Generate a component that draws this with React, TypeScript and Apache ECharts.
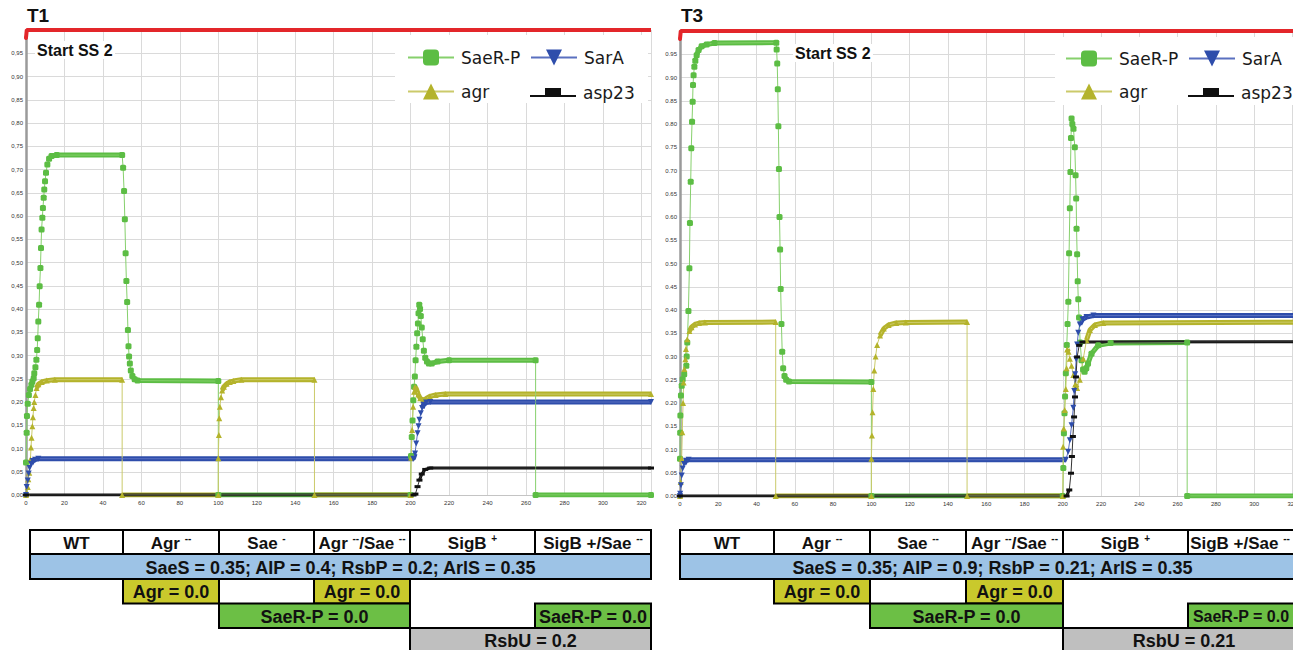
import React, { useEffect, useRef } from "react";
import * as echarts from "echarts";

type Pt = [number, number];

// ---------------- data ----------------
const X_MAX = 325;
const X_STEP = 20;
const Y_STEP = 0.05;
const startLabel = "Start SS 2";
const legendNames = ["SaeR-P", "SarA", "agr", "asp23"];

// T1 panel
const t1SaeRP: Pt[] = [
  [0, 0.07], [0.35, 0.134], [0.5, 0.17], [0.9, 0.196], [1.5, 0.215], [2.1, 0.228], [2.8, 0.237], [3.3, 0.244],
  [4.0, 0.251], [4.3, 0.262], [4.9, 0.275], [5.4, 0.291], [5.8, 0.312], [6.1, 0.337], [6.4, 0.373], [6.8, 0.409],
  [7.1, 0.449], [7.5, 0.488], [7.8, 0.531], [8.1, 0.571], [8.5, 0.596], [8.8, 0.617], [9.2, 0.639], [9.5, 0.657],
  [9.9, 0.675], [10.4, 0.693], [11.1, 0.711], [12.0, 0.723], [13.3, 0.729], [16, 0.731], [50, 0.731],
  [50.5, 0.704], [51, 0.654], [51.4, 0.593], [51.8, 0.52], [52.2, 0.46], [52.6, 0.415], [53, 0.355], [53.3, 0.32],
  [53.6, 0.298], [54, 0.283], [54.5, 0.268], [55.3, 0.256], [56.5, 0.249], [58, 0.246], [100, 0.245], [100, 0],
  [200, 0], [200.2, 0.084], [200.6, 0.125], [201, 0.16], [201.4, 0.204], [201.8, 0.233], [202.2, 0.255], [202.6, 0.29],
  [203, 0.319], [203.4, 0.348], [203.8, 0.369], [204.1, 0.391], [204.5, 0.409], [204.9, 0.4], [205.3, 0.385],
  [205.8, 0.36], [206.3, 0.335], [206.9, 0.31], [207.6, 0.295], [208.5, 0.287], [209.5, 0.283], [211, 0.283],
  [214, 0.287], [220, 0.29], [265, 0.29], [265, 0], [325, 0],
];
const t1Agr: Pt[] = [
  [0, 0], [0.35, 0.005], [0.9, 0.017], [1.2, 0.034], [1.7, 0.048], [2.3, 0.077], [2.6, 0.102], [2.9, 0.123],
  [3.3, 0.148], [3.6, 0.167], [4.0, 0.187], [4.3, 0.2], [4.9, 0.215], [5.5, 0.23], [6.4, 0.238], [8.2, 0.243],
  [10.8, 0.246], [15, 0.248], [50, 0.248], [50, 0], [100, 0], [100, 0.079], [100.3, 0.129], [100.5, 0.165],
  [100.8, 0.19], [101.4, 0.21], [102, 0.225], [102.9, 0.233], [104.3, 0.239], [106, 0.243], [107.8, 0.245],
  [112, 0.248], [150, 0.248], [150, 0], [200, 0], [200.3, 0.08], [200.8, 0.14], [201.3, 0.19], [201.8, 0.222],
  [202.3, 0.233], [203, 0.228], [204, 0.216], [205, 0.208], [206.6, 0.204], [208, 0.207], [210, 0.212],
  [213, 0.215], [218, 0.217], [325, 0.217],
];
const t1SarA: Pt[] = [
  [0, 0], [0.35, 0.017], [0.9, 0.031], [1.4, 0.046], [1.9, 0.058], [2.6, 0.067], [3.5, 0.073], [4.7, 0.076],
  [6.4, 0.078], [201.4, 0.078], [202.3, 0.089], [202.9, 0.111], [203.6, 0.133], [204.1, 0.148], [204.6, 0.162],
  [205.3, 0.176], [206, 0.187], [206.7, 0.194], [208.1, 0.199], [210.2, 0.2], [325, 0.2],
];
const t1Asp23: Pt[] = [
  [0, 0], [201.5, 0], [202.5, 0.002], [203.6, 0.018], [204.6, 0.032], [205.8, 0.045], [207.6, 0.055],
  [210.2, 0.058], [325, 0.058],
];

// T3 panel
const t3SaeRP: Pt[] = [
  [0, 0.08], [0.1, 0.136], [0.2, 0.173], [0.5, 0.216], [0.9, 0.237], [1.4, 0.251], [2.2, 0.262], [3.3, 0.28],
  [3.5, 0.3], [3.8, 0.33], [4.4, 0.398], [4.9, 0.49], [5.2, 0.587], [5.6, 0.676], [5.9, 0.748], [6.3, 0.805],
  [6.6, 0.848], [6.8, 0.884], [7.1, 0.905], [7.5, 0.923], [8.0, 0.936], [8.7, 0.948], [9.7, 0.959], [11.3, 0.967],
  [13.9, 0.971], [18, 0.974], [50.3, 0.975], [50.5, 0.96], [50.8, 0.93], [51.1, 0.875], [51.4, 0.795],
  [51.7, 0.703], [52.0, 0.6], [52.3, 0.53], [52.6, 0.445], [53, 0.37], [53.4, 0.31], [53.9, 0.275], [54.6, 0.258],
  [55.5, 0.25], [57, 0.246], [100, 0.245], [100, 0], [200, 0], [200.3, 0.06], [200.6, 0.135], [200.9, 0.178],
  [201.2, 0.214], [201.6, 0.264], [202.1, 0.325], [202.5, 0.37], [202.9, 0.418], [203.3, 0.522], [203.7, 0.619],
  [204.0, 0.697], [204.3, 0.77], [204.6, 0.812], [205.0, 0.8], [205.6, 0.79], [206.3, 0.75], [206.7, 0.69],
  [207.0, 0.64], [207.2, 0.575], [207.5, 0.52], [207.8, 0.462], [208.1, 0.423], [208.5, 0.384], [209.1, 0.33],
  [209.8, 0.292], [210.6, 0.272], [211.4, 0.267], [212.3, 0.275], [213.2, 0.285], [215, 0.306], [218.5, 0.324],
  [225, 0.329], [265, 0.33], [265, 0], [325, 0],
];
const t3Agr: Pt[] = [
  [0, 0], [0.1, 0.005], [0.35, 0.03], [0.87, 0.08], [1.2, 0.137], [1.6, 0.2], [1.9, 0.244], [2.3, 0.273],
  [2.8, 0.294], [3.1, 0.316], [3.8, 0.337], [4.9, 0.355], [6, 0.363], [7.8, 0.369], [10, 0.372], [13, 0.373],
  [50, 0.374], [50, 0], [100, 0], [100, 0.08], [100.3, 0.13], [100.6, 0.18], [101, 0.23], [101.5, 0.27],
  [102.2, 0.3], [103, 0.325], [104.5, 0.345], [106.5, 0.36], [109, 0.368], [113, 0.372], [118, 0.373],
  [150, 0.374], [150, 0], [200, 0], [200.2, 0.106], [200.5, 0.145], [201, 0.185], [201.6, 0.23], [202, 0.275],
  [202.3, 0.315], [203, 0.31], [203.7, 0.295], [204.6, 0.28], [205.5, 0.26], [206.5, 0.24], [207.5, 0.232],
  [208.9, 0.25], [210.7, 0.295], [212.4, 0.335], [214.2, 0.357], [216.8, 0.368], [221.2, 0.372], [325, 0.374],
];
const t3SarA: Pt[] = [
  [0, 0], [0.1, 0.005], [0.5, 0.023], [0.9, 0.044], [1.4, 0.059], [2.1, 0.069], [3.1, 0.076], [4.5, 0.078],
  [201.6, 0.078], [202.8, 0.095], [203.7, 0.12], [204.6, 0.152], [205.5, 0.19], [206, 0.226], [206.5, 0.262],
  [207, 0.294], [207.5, 0.326], [208.1, 0.351], [208.9, 0.369], [210.3, 0.38], [212.4, 0.385], [216, 0.388],
  [325, 0.388],
];
const t3Asp23: Pt[] = [
  [0, 0], [202, 0], [203.4, 0.013], [204.3, 0.049], [204.8, 0.085], [205.3, 0.128], [205.9, 0.17],
  [206.4, 0.213], [206.9, 0.256], [207.5, 0.299], [208.6, 0.324], [210.3, 0.331], [325, 0.332],
];

// table texts ("^" toggles superscript)
const t1Header = ["WT", "Agr ^--", "Sae ^-", "Agr ^--^/Sae ^--", "SigB ^+", "SigB +/Sae ^--"];
const t3Header = ["WT", "Agr ^--", "Sae ^--", "Agr ^--^/Sae ^--", "SigB ^+", "SigB +/Sae ^--"];
const t1Params = "SaeS = 0.35; AIP = 0.4; RsbP = 0.2; ArlS = 0.35";
const t3Params = "SaeS = 0.35; AIP = 0.9; RsbP = 0.21; ArlS = 0.35";
const agrKnock = "Agr = 0.0";
const saeKnock = "SaeR-P = 0.0";
const t1Rsbu = "RsbU = 0.2";
const t3Rsbu = "RsbU = 0.21";

// ---------------- styling / layout ----------------
const FONT = "'Liberation Sans', Arial, sans-serif";
const KX = 1.92;
const KY = 465;

const styles: Record<string, any> = {
  "SaeR-P": { color: "#5cbd44", line: "#86d06c", symbol: "roundRect", size: 6, rotate: 0, band: 5 },
  agr: { color: "#b4b32b", line: "#cbca6a", symbol: "triangle", size: 6, rotate: 0, band: 5 },
  SarA: { color: "#2e4dab", line: "#5a70c0", symbol: "triangle", size: 6, rotate: 180, band: 5 },
  asp23: { color: "#101010", line: "#333333", symbol: "rect", size: [6, 3], rotate: 0, band: 3 },
};

function bandData(d: Pt[]) {
  const out: any[] = [d[0]];
  for (let i = 1; i < d.length; i++) {
    const [a0, b0] = d[i - 1];
    const [a1, b1] = d[i];
    const dx = (a1 - a0) * KX;
    const dy = Math.abs(b1 - b0) * KY;
    if (dx === 0 || dy / dx > 3) out.push([(a0 + a1) / 2, null]);
    out.push(d[i]);
  }
  return out;
}

interface Panel {
  title: string;
  gridLeft: number;
  gridTop: number;
  gridWidth: number;
  sep: string;
  curves: Record<string, Pt[]>;
  startX: number;
  startY: number;
  legendCols: number[];
  legendRows: number[];
  legendBox: number[];
  cols: number[];
  visRight: number;
  header: string[];
  params: string;
  rsbu: string;
}

const panels: Panel[] = [
  {
    title: "T1", gridLeft: 26, gridTop: 30, gridWidth: 625, sep: ",",
    curves: { "SaeR-P": t1SaeRP, agr: t1Agr, SarA: t1SarA, asp23: t1Asp23 },
    startX: 37, startY: 50, legendCols: [402, 525], legendRows: [54, 88], legendBox: [395, 35, 253, 68],
    cols: [30, 123, 219, 314, 410, 535, 651], visRight: 651, header: t1Header, params: t1Params, rsbu: t1Rsbu,
  },
  {
    title: "T3", gridLeft: 20, gridTop: 31, gridWidth: 622, sep: ".",
    curves: { "SaeR-P": t3SaeRP, agr: t3Agr, SarA: t3SarA, asp23: t3Asp23 },
    startX: 135, startY: 53, legendCols: [400, 523], legendRows: [55, 88], legendBox: [395, 37, 245, 68],
    cols: [20, 114, 210, 306, 403, 528, 645], visRight: 632, header: t3Header, params: t3Params, rsbu: t3Rsbu,
  },
];

const ROWS = [530, 554, 579, 603.5, 628, 652];

function richHeader(s: string) {
  return s
    .split("^")
    .map((t, i) => (t ? `{${i % 2 ? "s" : "n"}|${t}}` : ""))
    .join("");
}

function cell(x0: number, x1: number, r: number, fill: string, text: string, opts: any = {}) {
  const y0 = ROWS[r];
  const y1 = ROWS[r + 1];
  const tx = opts.textRight !== undefined ? (x0 + Math.min(x1, opts.textRight)) / 2 : (x0 + x1) / 2;
  const fontSize = opts.fontSize || 18;
  const textStyle: any = opts.rich
    ? {
        text: richHeader(text), align: "center", verticalAlign: "middle",
        rich: {
          n: { font: `bold ${fontSize}px ${FONT}`, fill: "#111", lineHeight: 20, verticalAlign: "middle" },
          s: { font: `bold 10px ${FONT}`, fill: "#111", lineHeight: 12, verticalAlign: "top" },
        },
      }
    : { text, fill: "#111", font: `bold ${fontSize}px ${FONT}`, align: "center", verticalAlign: "middle" };
  return [
    { type: "rect", z: 10, shape: { x: x0, y: y0, width: x1 - x0, height: y1 - y0 }, style: { fill, stroke: "#000", lineWidth: 2 } },
    { type: "text", z: 11, x: tx, y: (y0 + y1) / 2 + 1, style: textStyle },
  ];
}

function buildOption(p: Panel) {
  const series: any[] = [];
  series.push({
    type: "line", name: "_start", silent: true, clip: false, z: 6,
    data: [
      { value: [0, 0.983], symbol: "circle", symbolSize: 4 },
      { value: [0.4, 1], symbol: "none" },
      { value: [X_MAX, 1], symbol: "none" },
    ],
    lineStyle: { color: "#e3262a", width: 4 }, itemStyle: { color: "#e3262a" },
  });
  for (const name of ["SaeR-P", "agr", "SarA", "asp23"]) {
    const s = styles[name];
    const d = p.curves[name];
    series.push({
      type: "line", name: "_band_" + name, data: bandData(d), symbol: "none", showSymbol: false,
      connectNulls: false, silent: true, z: 2,
      lineStyle: { color: s.color, width: s.band }, itemStyle: { color: s.color },
    });
    series.push({
      type: "line", name, data: d, symbol: s.symbol, symbolSize: s.size, symbolRotate: s.rotate,
      showSymbol: true, showAllSymbol: true, silent: true, z: 3,
      lineStyle: { color: s.line, width: 1 }, itemStyle: { color: s.color },
    });
  }

  const legendPos = [
    { name: legendNames[0], c: 0, r: 0 },
    { name: legendNames[1], c: 1, r: 0 },
    { name: legendNames[2], c: 0, r: 1 },
    { name: legendNames[3], c: 1, r: 1 },
  ];
  const legend = legendPos.map((l) => {
    const isAsp = l.name === "asp23";
    const ih = isAsp ? 9 : 20;
    const h = Math.max(ih, 18);
    return {
      data: [
        isAsp
          ? { name: l.name, icon: "path://M0 7h46v2H0zM15 0h16v8H15z" }
          : { name: l.name },
      ],
      left: p.legendCols[l.c],
      top: p.legendRows[l.r] - h / 2,
      itemWidth: 46,
      itemHeight: ih,
      itemGap: 8,
      selectedMode: false,
      lineStyle: { width: 2 },
      textStyle: { fontSize: 17, fontFamily: "'DejaVu Sans', Verdana, sans-serif", color: "#1a1a1a", padding: [0, 0, 0, 2] },
      z: 8,
    };
  });

  const c = p.cols;
  const clipped = c[6] > p.visRight;
  const graphic: any[] = [
    {
      type: "text", z: 20, x: p.gridLeft + 1, y: 15,
      style: { text: p.title, font: `bold 19px ${FONT}`, fill: "#111", verticalAlign: "middle" },
    },
    {
      type: "rect", z: 1, shape: { x: p.startX - 2, y: p.startY - 9, width: 80, height: 18 },
      style: { fill: "#ffffff" },
    },
    {
      type: "text", z: 20, x: p.startX, y: p.startY,
      style: { text: startLabel, font: `bold 16px ${FONT}`, fill: "#111", verticalAlign: "middle" },
    },
    {
      type: "rect", z: 1, shape: { x: p.legendBox[0], y: p.legendBox[1], width: p.legendBox[2], height: p.legendBox[3] },
      style: { fill: "#ffffff" },
    },
  ];
  p.header.forEach((h, i) =>
    graphic.push(...cell(c[i], c[i + 1], 0, "#ffffff", h, { rich: true, fontSize: 17, textRight: i === 5 ? p.visRight : undefined }))
  );
  graphic.push(...cell(c[0], c[6], 1, "#9dc3e6", p.params));
  graphic.push(...cell(c[1], c[2], 2, "#c9c92c", agrKnock));
  graphic.push(...cell(c[3], c[4], 2, "#c9c92c", agrKnock));
  graphic.push(...cell(c[2], c[4], 3, "#6cbf45", saeKnock));
  graphic.push(...cell(c[5], c[6], 3, "#6cbf45", saeKnock, { textRight: p.visRight + 2, fontSize: clipped ? 16 : 18 }));
  graphic.push(...cell(c[4], c[6], 4, "#bfbfbf", p.rsbu));

  return {
    animation: false,
    backgroundColor: "#ffffff",
    grid: { left: p.gridLeft, top: p.gridTop, width: p.gridWidth, height: 465, containLabel: false },
    xAxis: {
      type: "value", min: 0, max: X_MAX, interval: X_STEP,
      axisLine: { show: true, lineStyle: { color: "#c4c4c4", width: 1 } },
      axisTick: { show: false },
      axisLabel: {
        fontSize: 6, color: "#333", margin: 5, fontFamily: FONT,
        formatter: (v: number) => (Math.round(v) % X_STEP === 0 ? String(Math.round(v)) : ""),
      },
      splitLine: { show: true, lineStyle: { color: "#dadada", width: 1 } },
    },
    yAxis: {
      type: "value", min: 0, max: 1, interval: Y_STEP,
      axisLine: { show: true, lineStyle: { color: "#9a9a9a", width: 2.5 } },
      axisTick: { show: false },
      axisLabel: {
        fontSize: 6, color: "#333", margin: 3, fontFamily: FONT,
        formatter: (v: number) => (v > 0.999 ? "" : v.toFixed(2).replace(".", p.sep)),
      },
      splitLine: { show: true, lineStyle: { color: "#dadada", width: 1 } },
    },
    legend,
    series,
    graphic,
  };
}

function PanelChart({ panel, left }: { panel: Panel; left: number }) {
  const ref = useRef<HTMLDivElement>(null);
  useEffect(() => {
    if (!ref.current) return;
    const chart = echarts.init(ref.current, undefined, { renderer: "svg" });
    chart.setOption(buildOption(panel) as any);
    return () => chart.dispose();
  }, [panel]);
  return (
    <div
      ref={ref}
      style={{ position: "absolute", left, top: 0, width: 660, height: 650 }}
    />
  );
}

export default function App() {
  return (
    <div
      style={{
        position: "fixed", left: 0, top: 0, width: 1293, height: 650,
        overflow: "hidden", background: "#ffffff",
      }}
    >
      <PanelChart panel={panels[0]} left={0} />
      <PanelChart panel={panels[1]} left={660} />
    </div>
  );
}
